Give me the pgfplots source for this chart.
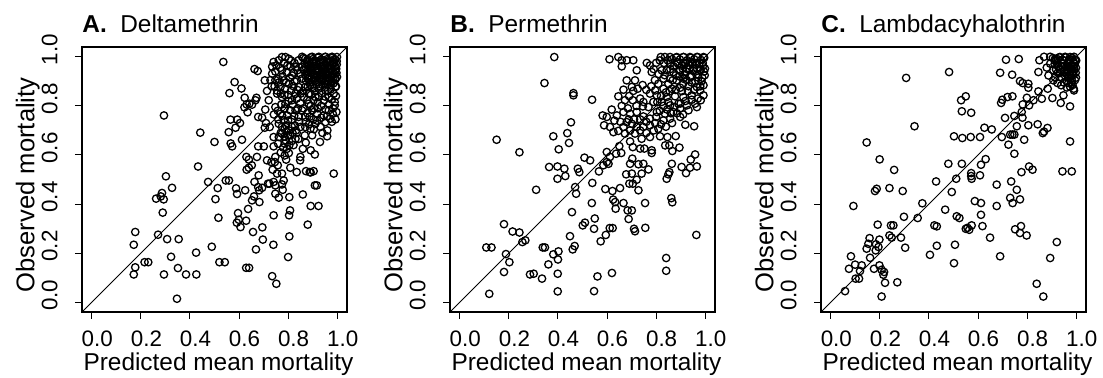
\documentclass[border=0pt]{standalone}
\usepackage{fontspec}
\setmainfont{Liberation Sans}
\usepackage{pgfplots}
\usepackage{pgfplotstable}
\pgfplotsset{compat=1.18}

\pgfplotstableread{
x y
0.536 0.979
0.294 0.761
0.442 0.691
0.500 0.653
0.433 0.553
0.302 0.513
0.327 0.466
0.286 0.445
0.281 0.431
0.262 0.422
0.293 0.419
0.289 0.365
0.177 0.286
0.171 0.234
0.270 0.275
0.307 0.257
0.354 0.257
0.323 0.185
0.215 0.163
0.230 0.163
0.177 0.142
0.171 0.113
0.294 0.113
0.351 0.139
0.384 0.113
0.426 0.113
0.425 0.202
0.489 0.226
0.347 0.014
0.520 0.163
0.542 0.163
0.474 0.490
0.513 0.465
0.504 0.420
0.516 0.344
0.546 0.496
0.559 0.496
0.588 0.464
0.592 0.441
0.625 0.456
0.596 0.363
0.591 0.324
0.599 0.336
0.606 0.306
0.629 0.332
0.637 0.380
0.657 0.286
0.695 0.305
0.669 0.215
0.697 0.255
0.629 0.140
0.641 0.140
0.735 0.106
0.752 0.075
0.740 0.234
0.800 0.184
0.805 0.268
0.804 0.354
0.808 0.374
0.741 0.354
0.653 0.415
0.661 0.431
0.683 0.408
0.682 0.456
0.678 0.469
0.718 0.483
0.748 0.442
0.762 0.426
0.778 0.458
0.805 0.428
0.860 0.439
0.880 0.316
0.892 0.392
0.924 0.392
0.909 0.476
0.917 0.476
0.904 0.534
0.986 0.524
0.892 0.529
0.873 0.534
0.835 0.530
0.630 0.592
0.640 0.581
0.652 0.558
0.640 0.548
0.631 0.540
0.673 0.592
0.680 0.517
0.714 0.578
0.732 0.571
0.746 0.571
0.748 0.592
0.758 0.558
0.737 0.540
0.755 0.524
0.775 0.524
0.786 0.598
0.803 0.608
0.792 0.581
0.809 0.548
0.850 0.592
0.849 0.578
0.888 0.530
0.892 0.619
0.909 0.602
0.748 0.476
0.724 0.483
0.775 0.480
0.782 0.496
0.741 0.490
0.663 0.490
0.694 0.466
0.678 0.635
0.701 0.635
0.741 0.635
0.759 0.646
0.786 0.646
0.816 0.657
0.930 0.653
0.959 0.676
0.830 0.666
0.868 0.680
0.898 0.680
0.566 0.647
0.572 0.635
0.612 0.662
0.558 0.693
0.565 0.744
0.593 0.744
0.586 0.711
0.604 0.730
0.561 0.852
0.582 0.897
0.610 0.871
0.623 0.833
0.635 0.774
0.622 0.794
0.631 0.806
0.642 0.809
0.653 0.805
0.671 0.833
0.667 0.823
0.663 0.950
0.676 0.942
0.705 0.904
0.714 0.861
0.735 0.931
0.741 0.979
0.678 0.755
0.694 0.752
0.705 0.711
0.710 0.730
0.707 0.785
0.721 0.823
0.748 0.795
0.725 0.714
0.741 0.673
0.762 0.673
0.775 0.687
0.752 0.965
0.762 0.986
0.775 0.999
0.789 0.999
0.803 0.992
0.775 0.945
0.782 0.904
0.769 0.877
0.755 0.850
0.775 0.836
0.789 0.809
0.769 0.768
0.782 0.741
0.792 0.720
0.803 0.700
0.775 0.714
0.762 0.727
0.796 0.761
0.809 0.782
0.816 0.823
0.830 0.850
0.843 0.877
0.803 0.890
0.816 0.924
0.830 0.958
0.843 0.986
0.857 1.000
0.830 0.782
0.843 0.755
0.857 0.782
0.870 0.755
0.850 0.714
0.870 0.714
0.891 0.707
0.911 0.727
0.932 0.714
0.952 0.734
0.972 0.748
0.982 0.768
0.990 0.816
0.990 0.802
0.966 0.782
0.945 0.761
0.918 0.768
0.898 0.782
0.884 0.809
0.904 0.823
0.925 0.836
0.945 0.823
0.966 0.836
0.986 0.850
0.993 0.877
0.993 0.911
0.864 0.836
0.884 0.850
0.870 0.877
0.898 0.877
0.925 0.870
0.952 0.863
0.972 0.884
0.857 0.911
0.884 0.911
0.911 0.904
0.938 0.904
0.966 0.911
0.864 0.945
0.891 0.945
0.918 0.945
0.945 0.945
0.972 0.945
0.993 0.945
0.877 0.979
0.904 0.979
0.932 0.979
0.959 0.979
0.986 0.979
0.898 1.000
0.925 1.000
0.952 1.000
0.979 1.000
0.999 0.999
0.857 0.958
0.850 0.931
0.836 0.904
0.911 0.836
0.728 0.905
0.745 0.880
0.760 0.910
0.795 0.935
0.810 0.960
0.788 0.870
0.800 0.845
0.822 0.880
0.815 0.745
0.828 0.720
0.808 0.680
0.822 0.640
0.795 0.625
0.770 0.610
0.790 0.660
0.835 0.690
0.872 0.650
0.860 0.625
0.862 0.995
0.878 0.987
0.893 0.998
0.907 0.984
0.921 0.996
0.936 0.989
0.951 0.999
0.964 0.986
0.978 0.995
0.992 0.990
0.868 0.972
0.884 0.965
0.899 0.975
0.913 0.962
0.928 0.973
0.943 0.966
0.957 0.978
0.971 0.963
0.986 0.974
0.998 0.968
0.864 0.948
0.879 0.940
0.894 0.952
0.909 0.944
0.924 0.950
0.939 0.938
0.953 0.947
0.967 0.955
0.981 0.942
0.996 0.951
0.871 0.925
0.886 0.918
0.901 0.930
0.916 0.921
0.931 0.927
0.946 0.915
0.960 0.926
0.975 0.919
0.989 0.931
0.873 0.902
0.889 0.896
0.904 0.907
0.919 0.899
0.934 0.905
0.949 0.893
0.963 0.902
0.978 0.896
0.993 0.908
0.880 0.878
0.906 0.872
0.927 0.880
0.952 0.875
0.974 0.868
0.995 0.880
0.735 0.960
0.748 0.940
0.768 0.955
0.783 0.975
0.797 0.965
0.812 0.985
0.826 0.975
0.838 0.945
0.822 0.935
0.808 0.915
0.792 0.895
0.778 0.920
0.762 0.895
0.748 0.905
0.733 0.880
0.755 0.862
0.770 0.850
0.785 0.845
0.812 0.862
0.826 0.900
0.838 0.865
0.851 0.850
0.835 0.830
0.818 0.805
0.802 0.820
0.786 0.790
0.772 0.805
0.758 0.780
0.742 0.765
0.760 0.745
0.776 0.760
0.800 0.740
0.825 0.760
0.840 0.790
0.850 0.810
0.815 0.715
0.832 0.700
0.845 0.735
0.786 0.705
0.770 0.690
0.800 0.680
0.818 0.690
0.785 0.675
0.842 0.665
0.805 0.640
0.780 0.630
0.862 0.860
0.878 0.825
0.893 0.845
0.908 0.860
0.921 0.815
0.937 0.852
0.951 0.838
0.962 0.860
0.978 0.826
0.995 0.840
0.862 0.790
0.878 0.770
0.892 0.800
0.905 0.790
0.921 0.790
0.935 0.800
0.952 0.785
0.968 0.805
0.983 0.790
0.997 0.775
0.872 0.735
0.887 0.755
0.903 0.745
0.918 0.740
0.935 0.752
0.958 0.757
0.978 0.735
0.993 0.745
0.885 0.725
0.905 0.705
0.940 0.690
0.960 0.700
0.870 0.992
0.886 0.982
0.900 0.990
0.915 0.978
0.930 0.985
0.944 0.978
0.958 0.990
0.972 0.980
0.985 0.988
0.998 0.982
0.872 0.958
0.888 0.954
0.903 0.962
0.918 0.955
0.933 0.960
0.948 0.955
0.962 0.965
0.976 0.952
0.990 0.960
0.878 0.932
0.893 0.935
0.908 0.928
0.923 0.938
0.938 0.925
0.953 0.932
0.968 0.935
0.983 0.925
0.997 0.935
0.880 0.910
0.896 0.912
0.912 0.915
0.927 0.912
0.942 0.910
0.957 0.915
0.970 0.905
0.985 0.915
0.999 0.918
0.890 0.885
0.915 0.888
0.940 0.885
0.962 0.888
0.985 0.892
}\dataA

\pgfplotstableread{
x y
0.385 0.999
0.345 0.893
0.463 0.852
0.463 0.843
0.539 0.825
0.150 0.662
0.243 0.611
0.381 0.676
0.438 0.689
0.453 0.733
0.445 0.649
0.403 0.623
0.364 0.551
0.398 0.553
0.426 0.544
0.398 0.503
0.430 0.514
0.481 0.544
0.487 0.530
0.508 0.589
0.531 0.578
0.311 0.458
0.470 0.469
0.474 0.442
0.540 0.486
0.457 0.367
0.538 0.404
0.180 0.318
0.215 0.288
0.243 0.284
0.255 0.245
0.267 0.252
0.108 0.223
0.129 0.223
0.188 0.196
0.202 0.163
0.180 0.123
0.120 0.034
0.338 0.223
0.347 0.223
0.381 0.195
0.402 0.207
0.400 0.174
0.361 0.154
0.286 0.113
0.301 0.116
0.335 0.096
0.399 0.116
0.399 0.044
0.449 0.269
0.460 0.215
0.468 0.229
0.501 0.313
0.510 0.324
0.547 0.299
0.550 0.341
0.561 0.105
0.547 0.045
0.620 0.119
0.574 0.248
0.595 0.274
0.611 0.302
0.623 0.302
0.756 0.303
0.710 0.299
0.714 0.289
0.841 0.180
0.841 0.128
0.964 0.274
0.585 0.558
0.567 0.533
0.599 0.571
0.606 0.564
0.593 0.461
0.622 0.453
0.625 0.418
0.633 0.408
0.635 0.381
0.653 0.465
0.667 0.404
0.684 0.374
0.701 0.374
0.688 0.339
0.755 0.404
0.728 0.456
0.705 0.483
0.691 0.483
0.678 0.521
0.701 0.524
0.721 0.499
0.741 0.524
0.769 0.541
0.748 0.564
0.728 0.562
0.703 0.585
0.694 0.564
0.862 0.424
0.866 0.407
0.843 0.503
0.850 0.521
0.854 0.530
0.864 0.564
0.904 0.551
0.922 0.526
0.938 0.548
0.966 0.553
0.941 0.581
0.959 0.602
0.895 0.630
0.866 0.616
0.854 0.639
0.837 0.639
0.782 0.619
0.782 0.608
0.752 0.626
0.735 0.626
0.705 0.632
0.694 0.655
0.658 0.608
0.637 0.605
0.612 0.592
0.599 0.612
0.650 0.636
0.741 0.666
0.775 0.673
0.816 0.676
0.846 0.673
0.880 0.677
0.919 0.723
0.955 0.717
0.610 0.990
0.646 0.999
0.660 0.986
0.680 0.986
0.707 0.986
0.660 0.961
0.721 0.945
0.762 0.975
0.775 0.965
0.782 0.938
0.714 0.904
0.680 0.904
0.701 0.877
0.667 0.866
0.707 0.861
0.646 0.839
0.673 0.823
0.705 0.823
0.748 0.816
0.746 0.798
0.775 0.850
0.796 0.863
0.809 0.890
0.830 0.911
0.823 0.945
0.819 0.999
0.836 0.999
0.857 0.999
0.884 0.999
0.911 0.999
0.938 0.999
0.966 0.999
0.993 0.999
0.857 0.972
0.884 0.979
0.911 0.975
0.938 0.979
0.966 0.975
0.990 0.975
0.843 0.945
0.870 0.938
0.898 0.945
0.925 0.952
0.952 0.952
0.979 0.948
0.999 0.952
0.857 0.911
0.884 0.904
0.911 0.911
0.938 0.918
0.972 0.915
0.993 0.884
0.966 0.877
0.932 0.880
0.898 0.874
0.864 0.870
0.830 0.870
0.803 0.843
0.843 0.836
0.877 0.839
0.911 0.836
0.945 0.843
0.993 0.843
0.982 0.823
0.959 0.809
0.925 0.802
0.891 0.809
0.857 0.802
0.823 0.816
0.789 0.816
0.769 0.795
0.803 0.775
0.836 0.768
0.870 0.775
0.898 0.755
0.857 0.748
0.830 0.741
0.796 0.730
0.775 0.721
0.809 0.707
0.775 0.748
0.748 0.757
0.721 0.775
0.694 0.768
0.667 0.775
0.640 0.761
0.619 0.785
0.599 0.755
0.582 0.761
0.588 0.721
0.612 0.714
0.626 0.693
0.646 0.698
0.667 0.714
0.680 0.734
0.701 0.727
0.721 0.714
0.694 0.700
0.673 0.687
0.714 0.687
0.748 0.714
0.898 0.789
0.932 0.782
0.966 0.795
0.979 0.863
0.882 0.997
0.897 0.989
0.912 0.999
0.926 0.986
0.941 0.996
0.955 0.990
0.969 0.999
0.983 0.987
0.996 0.996
0.889 0.972
0.904 0.964
0.919 0.975
0.933 0.966
0.948 0.977
0.962 0.968
0.977 0.974
0.991 0.963
0.893 0.945
0.908 0.952
0.922 0.940
0.937 0.950
0.952 0.943
0.966 0.954
0.981 0.945
0.995 0.940
0.915 0.925
0.944 0.920
0.972 0.928
0.988 0.915
0.815 0.985
0.832 0.975
0.848 0.985
0.865 0.990
0.872 0.960
0.858 0.950
0.835 0.925
0.850 0.890
0.868 0.905
0.880 0.925
0.895 0.920
0.910 0.890
0.925 0.905
0.945 0.895
0.960 0.900
0.985 0.900
0.998 0.925
0.980 0.880
0.955 0.865
0.930 0.860
0.905 0.860
0.880 0.865
0.855 0.860
0.840 0.855
0.820 0.840
0.805 0.815
0.830 0.800
0.850 0.815
0.875 0.795
0.900 0.810
0.920 0.820
0.945 0.825
0.970 0.830
0.815 0.780
0.845 0.785
0.860 0.770
0.885 0.770
0.910 0.765
0.800 0.755
0.820 0.725
0.840 0.715
0.865 0.730
0.790 0.700
0.760 0.690
0.735 0.700
0.760 0.735
0.735 0.745
0.710 0.745
0.688 0.745
0.655 0.735
0.630 0.740
0.720 0.800
0.735 0.830
0.760 0.865
0.745 0.885
0.725 0.870
0.690 0.840
0.660 0.800
0.685 0.790
0.780 0.880
0.795 0.905
0.810 0.930
0.790 0.950
0.800 0.975
}\dataB

\pgfplotstableread{
x y
0.307 0.914
0.482 0.938
0.714 0.988
0.766 0.991
0.690 0.935
0.739 0.927
0.771 0.901
0.782 0.893
0.805 0.890
0.805 0.874
0.341 0.717
0.146 0.651
0.199 0.582
0.258 0.539
0.092 0.392
0.180 0.453
0.187 0.462
0.239 0.465
0.293 0.453
0.373 0.403
0.354 0.343
0.298 0.348
0.191 0.316
0.245 0.313
0.255 0.313
0.239 0.272
0.248 0.263
0.286 0.263
0.303 0.222
0.158 0.261
0.198 0.255
0.146 0.218
0.184 0.236
0.194 0.225
0.153 0.238
0.160 0.181
0.183 0.211
0.082 0.187
0.099 0.153
0.126 0.150
0.074 0.136
0.119 0.127
0.101 0.096
0.115 0.096
0.176 0.136
0.198 0.150
0.207 0.132
0.217 0.123
0.214 0.112
0.221 0.079
0.271 0.081
0.207 0.023
0.058 0.045
0.429 0.492
0.479 0.564
0.534 0.564
0.511 0.503
0.493 0.449
0.466 0.377
0.432 0.309
0.422 0.313
0.432 0.230
0.404 0.193
0.506 0.234
0.502 0.159
0.513 0.350
0.524 0.343
0.550 0.299
0.557 0.303
0.574 0.313
0.564 0.295
0.618 0.310
0.612 0.356
0.612 0.404
0.587 0.412
0.572 0.526
0.572 0.514
0.574 0.503
0.608 0.517
0.612 0.560
0.631 0.583
0.649 0.263
0.690 0.187
0.676 0.479
0.676 0.392
0.735 0.492
0.758 0.458
0.771 0.419
0.731 0.425
0.741 0.404
0.751 0.297
0.775 0.310
0.771 0.282
0.798 0.272
0.777 0.530
0.808 0.553
0.822 0.540
0.921 0.245
0.894 0.180
0.839 0.075
0.866 0.023
0.944 0.533
0.982 0.533
0.975 0.655
0.710 0.751
0.748 0.759
0.781 0.752
0.778 0.775
0.758 0.717
0.805 0.721
0.843 0.725
0.864 0.689
0.869 0.695
0.883 0.710
0.788 0.662
0.724 0.642
0.748 0.605
0.697 0.673
0.731 0.683
0.740 0.683
0.748 0.683
0.656 0.704
0.626 0.711
0.608 0.673
0.570 0.673
0.536 0.669
0.502 0.676
0.534 0.778
0.572 0.772
0.531 0.823
0.550 0.839
0.694 0.812
0.699 0.825
0.720 0.836
0.740 0.839
0.782 0.806
0.808 0.802
0.799 0.833
0.826 0.823
0.846 0.859
0.860 0.829
0.884 0.870
0.903 0.832
0.937 0.812
0.975 0.798
0.948 0.843
0.924 0.893
0.939 0.884
0.968 0.893
0.982 0.904
0.991 0.863
0.846 0.938
0.850 0.986
0.869 1.000
0.894 1.000
0.894 0.972
0.914 0.992
0.934 0.999
0.955 1.000
0.975 0.999
0.991 1.000
0.968 0.979
0.989 0.979
0.948 0.972
0.928 0.958
0.907 0.945
0.934 0.934
0.962 0.945
0.982 0.952
0.887 0.924
0.914 0.915
0.880 0.956
0.907 0.904
0.905 0.995
0.918 0.986
0.931 0.998
0.944 0.988
0.957 0.997
0.970 0.985
0.983 0.996
0.996 0.988
0.912 0.970
0.926 0.962
0.940 0.974
0.953 0.964
0.967 0.973
0.980 0.961
0.994 0.971
0.935 0.948
0.950 0.940
0.964 0.950
0.978 0.942
0.992 0.952
0.955 0.922
0.972 0.915
0.988 0.925
0.962 0.900
0.980 0.895
0.995 0.905
0.975 0.878
0.990 0.870
0.918 0.948
0.945 0.960
0.960 0.930
0.985 0.935
1.000 0.985
0.999 0.955
0.940 0.915
0.925 0.935
0.968 0.915
0.985 0.885
0.962 0.875
0.950 0.895
0.998 0.935
0.999 0.915
0.912 0.985
0.925 0.990
0.950 0.985
0.975 0.990
0.988 0.965
0.960 0.960
0.975 0.955
0.990 0.940
0.978 0.925
0.965 0.940
}\dataC

\pgfplotsset{
  panel/.style={
    width=132.5pt, height=132.5pt, scale only axis,
    xmin=-0.04, xmax=1.04, ymin=-0.04, ymax=1.04,
    xtick={0,0.2,0.4,0.6,0.8,1}, ytick={0,0.2,0.4,0.6,0.8,1},
    xticklabels={0.0,0.2,0.4,0.6,0.8,1.0},
    yticklabels={0.0,0.2,0.4,0.6,0.8,1.0},
    tick align=outside, xtick pos=bottom, ytick pos=left,
    major tick length=3.5pt,
    every tick/.style={black, line width=0.5pt},
    axis line style={line width=0.6pt},
    tick label style={font=\fontsize{11.2}{13}\selectfont, inner sep=0pt},
    xticklabel style={anchor=base, yshift=-14pt, xshift=2.75pt},
    yticklabel style={rotate=90, anchor=base, xshift=3.5pt, yshift=8.8pt},
    label style={inner sep=0pt},
    xlabel={Predicted mean mortality},
    ylabel={Observed mortality},
    xlabel style={at={(axis description cs:0.515,-0.2204)}, anchor=base,
      font=\fontsize{12.2}{14}\selectfont},
    ylabel style={at={(axis description cs:-0.205,0.48)}, anchor=center,
      font=\fontsize{12.8}{14}\selectfont},
    title style={at={(axis description cs:0,1)}, anchor=base west, yshift=1.25pt,
      inner sep=0pt, font=\fontsize{12.2}{14}\selectfont},
    clip=true,
  },
  pts/.style={only marks, mark=o, mark size=1.85pt, black,
    mark options={line width=0.65pt}},
}

\begin{document}
\begin{tikzpicture}
\path[use as bounding box] (0,0) rectangle (551.5pt,189pt);
\begin{axis}[panel, at={(41pt,33pt)}, anchor=south west,
  title={\textbf{A.}\ \ Deltamethrin}]
\addplot[pts] table {\dataA};
\addplot[black, line width=0.5pt] coordinates {(-0.04,-0.04) (1.04,1.04)};
\end{axis}
\begin{axis}[panel, at={(225pt,33pt)}, anchor=south west,
  title={\textbf{B.}\ \ Permethrin}]
\addplot[pts] table {\dataB};
\addplot[black, line width=0.5pt] coordinates {(-0.04,-0.04) (1.04,1.04)};
\end{axis}
\begin{axis}[panel, at={(410.5pt,33pt)}, anchor=south west,
  title={\textbf{C.}\ \ Lambdacyhalothrin}]
\addplot[pts] table {\dataC};
\addplot[black, line width=0.5pt] coordinates {(-0.04,-0.04) (1.04,1.04)};
\end{axis}
\end{tikzpicture}
\end{document}
